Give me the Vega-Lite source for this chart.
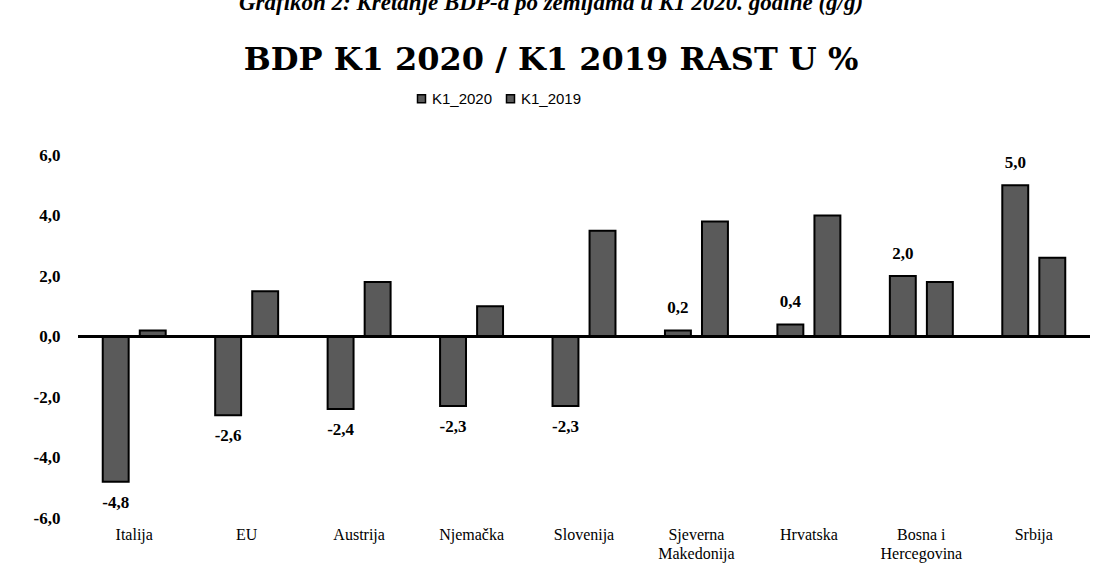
{
  "$schema": "https://vega.github.io/schema/vega-lite/v6.json",
  "width": 1012,
  "height": 363,
  "padding": {"left": 33, "top": -8, "right": 11, "bottom": 5},
  "background": "white",
  "title": {
    "text": "Grafikon 2: Kretanje BDP-a po zemljama u K1 2020. godine (g/g)",
    "subtitle": "BDP K1 2020 / K1 2019 RAST U %",
    "anchor": "middle",
    "dx": -33,
    "font": "Liberation Serif",
    "fontSize": 23,
    "fontStyle": "italic",
    "fontWeight": "bold",
    "color": "black",
    "subtitleFont": "DejaVu Serif",
    "subtitleFontSize": 32,
    "subtitleFontWeight": "bold",
    "subtitleColor": "black",
    "subtitlePadding": 30,
    "offset": 15
  },
  "config": {
    "view": {"stroke": null},
    "font": "Liberation Serif",
    "locale": {"number": {"decimal": ",", "thousands": ".", "grouping": [3], "currency": ["", ""], "minus": "-"}}
  },
  "datasets": {
    "gdp": [
      {"zemlja": "Italija", "serija": "K1_2020", "rast": -4.8},
      {"zemlja": "Italija", "serija": "K1_2019", "rast": 0.2},
      {"zemlja": "EU", "serija": "K1_2020", "rast": -2.6},
      {"zemlja": "EU", "serija": "K1_2019", "rast": 1.5},
      {"zemlja": "Austrija", "serija": "K1_2020", "rast": -2.4},
      {"zemlja": "Austrija", "serija": "K1_2019", "rast": 1.8},
      {"zemlja": "Njemačka", "serija": "K1_2020", "rast": -2.3},
      {"zemlja": "Njemačka", "serija": "K1_2019", "rast": 1.0},
      {"zemlja": "Slovenija", "serija": "K1_2020", "rast": -2.3},
      {"zemlja": "Slovenija", "serija": "K1_2019", "rast": 3.5},
      {"zemlja": "Sjeverna Makedonija", "serija": "K1_2020", "rast": 0.2},
      {"zemlja": "Sjeverna Makedonija", "serija": "K1_2019", "rast": 3.8},
      {"zemlja": "Hrvatska", "serija": "K1_2020", "rast": 0.4},
      {"zemlja": "Hrvatska", "serija": "K1_2019", "rast": 4.0},
      {"zemlja": "Bosna i Hercegovina", "serija": "K1_2020", "rast": 2.0},
      {"zemlja": "Bosna i Hercegovina", "serija": "K1_2019", "rast": 1.8},
      {"zemlja": "Srbija", "serija": "K1_2020", "rast": 5.0},
      {"zemlja": "Srbija", "serija": "K1_2019", "rast": 2.6}
    ]
  },
  "data": {"name": "gdp"},
  "encoding": {
    "x": {
      "field": "zemlja",
      "type": "nominal",
      "sort": null,
      "scale": {"paddingInner": 0.44, "paddingOuter": 0.22},
      "axis": {
        "title": null,
        "orient": "bottom",
        "domain": false,
        "ticks": false,
        "labelAngle": 0,
        "labelPadding": 8,
        "labelFont": "Liberation Serif",
        "labelFontSize": 16,
        "labelColor": "black",
        "labelLineHeight": 19,
        "labelExpr": "datum.value == 'Sjeverna Makedonija' ? ['Sjeverna', 'Makedonija'] : datum.value == 'Bosna i Hercegovina' ? ['Bosna i', 'Hercegovina'] : datum.value"
      }
    },
    "xOffset": {
      "field": "serija",
      "type": "nominal",
      "sort": ["K1_2020", "K1_2019"],
      "scale": {"paddingInner": 0.3}
    }
  },
  "layer": [
    {
      "mark": {"type": "bar", "stroke": "black", "strokeWidth": 2},
      "encoding": {
        "y": {
          "field": "rast",
          "type": "quantitative",
          "scale": {"domain": [-6, 6], "nice": false},
          "axis": {
            "title": null,
            "values": [-6, -4, -2, 0, 2, 4, 6],
            "format": ".1f",
            "domain": false,
            "ticks": false,
            "grid": false,
            "labelPadding": 18,
            "labelFont": "Liberation Serif",
            "labelFontSize": 17,
            "labelFontWeight": "bold",
            "labelColor": "black"
          }
        },
        "color": {
          "field": "serija",
          "type": "nominal",
          "sort": ["K1_2020", "K1_2019"],
          "scale": {"domain": ["K1_2020", "K1_2019"], "range": ["#5a5a5a", "#5a5a5a"]},
          "legend": {
            "title": null,
            "orient": "none",
            "direction": "horizontal",
            "legendX": 336,
            "legendY": -64,
            "symbolType": "square",
            "symbolSize": 64,
            "symbolFillColor": "black",
            "symbolStrokeColor": "black",
            "labelFont": "Liberation Sans",
            "labelFontSize": 15,
            "labelColor": "black",
            "labelOffset": 3,
            "columnPadding": 10,
            "symbolOffset": 0
          }
        }
      }
    },
    {
      "mark": {"type": "rule", "stroke": "black", "strokeWidth": 2},
      "encoding": {"y": {"datum": 0}, "x": null, "xOffset": null}
    },
    {
      "transform": [{"filter": "datum.serija == 'K1_2020' && datum.rast >= 0"}],
      "mark": {"type": "text", "baseline": "bottom", "dy": -13, "fontSize": 17, "fontWeight": "bold", "font": "Liberation Serif", "color": "black"},
      "encoding": {
        "y": {"field": "rast", "type": "quantitative"},
        "text": {"field": "rast", "type": "quantitative", "format": ".1f"}
      }
    },
    {
      "transform": [{"filter": "datum.serija == 'K1_2020' && datum.rast < 0"}],
      "mark": {"type": "text", "baseline": "top", "dy": 13, "fontSize": 17, "fontWeight": "bold", "font": "Liberation Serif", "color": "black"},
      "encoding": {
        "y": {"field": "rast", "type": "quantitative"},
        "text": {"field": "rast", "type": "quantitative", "format": ".1f"}
      }
    }
  ]
}
